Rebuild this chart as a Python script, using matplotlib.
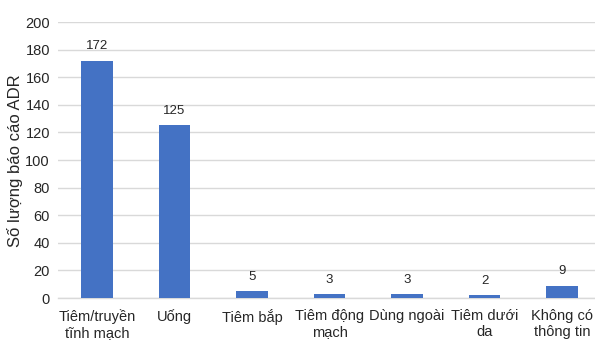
import matplotlib
matplotlib.use("Agg")
import matplotlib.pyplot as plt

categories = ["Tiêm/truyền\ntĩnh mạch", "Uống", "Tiêm bắp", "Tiêm động\nmạch",
              "Dùng ngoài", "Tiêm dưới\nda", "Không có\nthông tin"]
values = [172, 125, 5, 3, 3, 2, 9]
yticks = [0, 20, 40, 60, 80, 100, 120, 140, 160, 180, 200]

plt.rcParams['font.family'] = ['Liberation Sans', 'DejaVu Sans']

fig = plt.figure(figsize=(5.95, 3.44), dpi=100)
fig.patch.set_facecolor('white')
ax = fig.add_axes([58.25/595, 1-298/344, (600.75-58.25)/595, 276/344])
x = list(range(len(categories)))
ax.bar(x, values, width=0.41, color='#4472C4', zorder=3)
for xi, v in zip(x, values):
    ax.annotate(str(v), (xi, v), xytext=(0, 6), textcoords='offset points',
                ha='center', va='bottom', fontsize=9.5, color='#262626')
ax.set_xlim(-0.5, len(categories)-0.5)
ax.set_ylim(0, 200)
ax.set_yticks(yticks)
ax.set_xticks(x)
ax.set_xticklabels(categories, fontsize=10.5, color='#262626', linespacing=1.15)
ax.tick_params(axis='y', labelsize=10.5, colors='#262626', length=0, pad=6)
ax.tick_params(axis='x', length=0, pad=8)
ax.yaxis.grid(True, color='#d9d9d9', linewidth=1.0, zorder=0)
for s in ['top', 'right', 'left']:
    ax.spines[s].set_visible(False)
ax.spines['bottom'].set_color('#d9d9d9')
ax.spines['bottom'].set_linewidth(1.0)
ax.set_facecolor('white')
fig.text(15/595, 1-161/344, "Số lượng báo cáo ADR", rotation=90, ha='center', va='center',
         fontsize=12, color='#262626')
fig.savefig("out.png", dpi=100)
